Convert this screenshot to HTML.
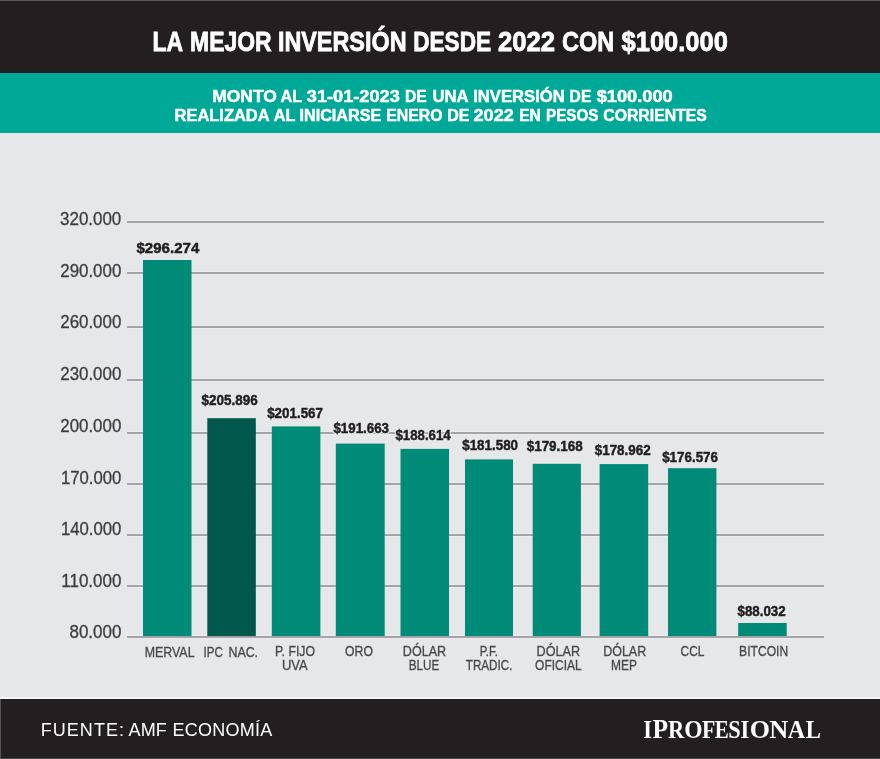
<!DOCTYPE html>
<html><head><meta charset="utf-8"><style>
html,body{margin:0;padding:0;background:#e6e7e8;}
body{width:880px;height:759px;overflow:hidden;}
svg{display:block;will-change:transform;}
text{white-space:pre;}
</style></head><body>
<svg width="880" height="759" viewBox="0 0 880 759">
<rect x="0" y="0" width="880" height="759" fill="#e6e7e8"/>
<rect x="0" y="0" width="880" height="73" fill="#231f20"/>
<rect x="0" y="0" width="880" height="1" fill="#5b5758"/>
<rect x="0" y="73" width="880" height="60" fill="#00a997"/>
<rect x="0" y="699" width="880" height="60" fill="#231f20"/>
<rect x="0" y="697" width="880" height="2" fill="#f6f6f6"/>
<rect x="0" y="699" width="1" height="60" fill="#555253"/>
<rect x="0" y="758" width="880" height="1" fill="#4a4748"/>
<rect x="127" y="220" width="697" height="1" fill="#ececed"/>
<rect x="127" y="223" width="697" height="1" fill="#ececed"/>
<rect x="127" y="221" width="697" height="2" fill="#a3a4a7"/>
<rect x="127" y="271" width="697" height="1" fill="#ececed"/>
<rect x="127" y="274" width="697" height="1" fill="#ececed"/>
<rect x="127" y="272" width="697" height="2" fill="#a3a4a7"/>
<rect x="127" y="325" width="697" height="1" fill="#ececed"/>
<rect x="127" y="328" width="697" height="1" fill="#ececed"/>
<rect x="127" y="326" width="697" height="2" fill="#a3a4a7"/>
<rect x="127" y="378" width="697" height="1" fill="#ececed"/>
<rect x="127" y="381" width="697" height="1" fill="#ececed"/>
<rect x="127" y="379" width="697" height="2" fill="#a3a4a7"/>
<rect x="127" y="431" width="697" height="1" fill="#ececed"/>
<rect x="127" y="434" width="697" height="1" fill="#ececed"/>
<rect x="127" y="432" width="697" height="2" fill="#a3a4a7"/>
<rect x="127" y="482" width="697" height="1" fill="#ececed"/>
<rect x="127" y="485" width="697" height="1" fill="#ececed"/>
<rect x="127" y="483" width="697" height="2" fill="#a3a4a7"/>
<rect x="127" y="533" width="697" height="1" fill="#ececed"/>
<rect x="127" y="536" width="697" height="1" fill="#ececed"/>
<rect x="127" y="534" width="697" height="2" fill="#a3a4a7"/>
<rect x="127" y="584" width="697" height="1" fill="#ececed"/>
<rect x="127" y="587" width="697" height="1" fill="#ececed"/>
<rect x="127" y="585" width="697" height="2" fill="#a3a4a7"/>
<rect x="127" y="635" width="697" height="1" fill="#ececed"/>
<rect x="127" y="638" width="697" height="1" fill="#ececed"/>
<rect x="127" y="636" width="697" height="2" fill="#a3a4a7"/>
<rect x="143" y="260" width="48.50" height="376.00" fill="#008a78"/>
<rect x="207.3" y="418.2" width="48.50" height="217.80" fill="#00574b"/>
<rect x="271.8" y="426.4" width="48.60" height="209.60" fill="#008a78"/>
<rect x="335.8" y="443.6" width="48.90" height="192.40" fill="#008a78"/>
<rect x="400.5" y="448.9" width="48.50" height="187.10" fill="#008a78"/>
<rect x="465" y="459.4" width="48.00" height="176.60" fill="#008a78"/>
<rect x="532.7" y="463.8" width="48.20" height="172.20" fill="#008a78"/>
<rect x="599.6" y="464.1" width="48.60" height="171.90" fill="#008a78"/>
<rect x="668" y="468.2" width="48.40" height="167.80" fill="#008a78"/>
<rect x="738.2" y="623" width="48.50" height="13.00" fill="#008a78"/>
<text id="t0" x="152.61" y="50.50" font-family="Liberation Sans" font-weight="bold" font-size="27.2" textLength="30.56" lengthAdjust="spacingAndGlyphs" fill="#fff" stroke="#fff" stroke-width="0.8" >LA</text>
<text id="t1" x="190.00" y="50.50" font-family="Liberation Sans" font-weight="bold" font-size="27.2" textLength="81.70" lengthAdjust="spacingAndGlyphs" fill="#fff" stroke="#fff" stroke-width="0.8" >MEJOR</text>
<text id="t2" x="277.88" y="50.50" font-family="Liberation Sans" font-weight="bold" font-size="27.2" textLength="128.69" lengthAdjust="spacingAndGlyphs" fill="#fff" stroke="#fff" stroke-width="0.8" >INVERSIÓN</text>
<text id="t3" x="413.19" y="50.50" font-family="Liberation Sans" font-weight="bold" font-size="27.2" textLength="77.90" lengthAdjust="spacingAndGlyphs" fill="#fff" stroke="#fff" stroke-width="0.8" >DESDE</text>
<text id="t4" x="497.96" y="50.50" font-family="Liberation Sans" font-weight="bold" font-size="27.2" textLength="57.19" lengthAdjust="spacingAndGlyphs" fill="#fff" stroke="#fff" stroke-width="0.8" >2022</text>
<text id="t5" x="561.92" y="50.50" font-family="Liberation Sans" font-weight="bold" font-size="27.2" textLength="52.23" lengthAdjust="spacingAndGlyphs" fill="#fff" stroke="#fff" stroke-width="0.8" >CON</text>
<text id="t6" x="621.56" y="50.50" font-family="Liberation Sans" font-weight="bold" font-size="27.2" textLength="106.33" lengthAdjust="spacingAndGlyphs" fill="#fff" stroke="#fff" stroke-width="0.8" >$100.000</text>
<text id="s1_0" x="212.26" y="101.50" font-family="Liberation Sans" font-weight="bold" font-size="17.4" textLength="64.59" lengthAdjust="spacingAndGlyphs" fill="#fff" stroke="#fff" stroke-width="0.5" >MONTO</text>
<text id="s1_1" x="280.60" y="101.50" font-family="Liberation Sans" font-weight="bold" font-size="17.4" textLength="21.74" lengthAdjust="spacingAndGlyphs" fill="#fff" stroke="#fff" stroke-width="0.5" >AL</text>
<text id="s1_2" x="306.79" y="101.50" font-family="Liberation Sans" font-weight="bold" font-size="17.4" textLength="92.97" lengthAdjust="spacingAndGlyphs" fill="#fff" stroke="#fff" stroke-width="0.5" >31-01-2023</text>
<text id="s1_3" x="405.04" y="101.50" font-family="Liberation Sans" font-weight="bold" font-size="17.4" textLength="21.71" lengthAdjust="spacingAndGlyphs" fill="#fff" stroke="#fff" stroke-width="0.5" >DE</text>
<text id="s1_4" x="432.47" y="101.50" font-family="Liberation Sans" font-weight="bold" font-size="17.4" textLength="36.04" lengthAdjust="spacingAndGlyphs" fill="#fff" stroke="#fff" stroke-width="0.5" >UNA</text>
<text id="s1_5" x="473.18" y="101.50" font-family="Liberation Sans" font-weight="bold" font-size="17.4" textLength="91.70" lengthAdjust="spacingAndGlyphs" fill="#fff" stroke="#fff" stroke-width="0.5" >INVERSIÓN</text>
<text id="s1_6" x="569.61" y="101.50" font-family="Liberation Sans" font-weight="bold" font-size="17.4" textLength="21.71" lengthAdjust="spacingAndGlyphs" fill="#fff" stroke="#fff" stroke-width="0.5" >DE</text>
<text id="s1_7" x="596.65" y="101.50" font-family="Liberation Sans" font-weight="bold" font-size="17.4" textLength="76.05" lengthAdjust="spacingAndGlyphs" fill="#fff" stroke="#fff" stroke-width="0.5" >$100.000</text>
<text id="s2_0" x="174.50" y="120.80" font-family="Liberation Sans" font-weight="bold" font-size="17.4" textLength="95.15" lengthAdjust="spacingAndGlyphs" fill="#fff" stroke="#fff" stroke-width="0.5" >REALIZADA</text>
<text id="s2_1" x="273.72" y="120.80" font-family="Liberation Sans" font-weight="bold" font-size="17.4" textLength="21.64" lengthAdjust="spacingAndGlyphs" fill="#fff" stroke="#fff" stroke-width="0.5" >AL</text>
<text id="s2_2" x="299.48" y="120.80" font-family="Liberation Sans" font-weight="bold" font-size="17.4" textLength="81.92" lengthAdjust="spacingAndGlyphs" fill="#fff" stroke="#fff" stroke-width="0.5" >INICIARSE</text>
<text id="s2_3" x="386.23" y="120.80" font-family="Liberation Sans" font-weight="bold" font-size="17.4" textLength="56.27" lengthAdjust="spacingAndGlyphs" fill="#fff" stroke="#fff" stroke-width="0.5" >ENERO</text>
<text id="s2_4" x="447.17" y="120.80" font-family="Liberation Sans" font-weight="bold" font-size="17.4" textLength="22.18" lengthAdjust="spacingAndGlyphs" fill="#fff" stroke="#fff" stroke-width="0.5" >DE</text>
<text id="s2_5" x="473.51" y="120.80" font-family="Liberation Sans" font-weight="bold" font-size="17.4" textLength="40.47" lengthAdjust="spacingAndGlyphs" fill="#fff" stroke="#fff" stroke-width="0.5" >2022</text>
<text id="s2_6" x="519.14" y="120.80" font-family="Liberation Sans" font-weight="bold" font-size="17.4" textLength="21.75" lengthAdjust="spacingAndGlyphs" fill="#fff" stroke="#fff" stroke-width="0.5" >EN</text>
<text id="s2_7" x="546.11" y="120.80" font-family="Liberation Sans" font-weight="bold" font-size="17.4" textLength="52.32" lengthAdjust="spacingAndGlyphs" fill="#fff" stroke="#fff" stroke-width="0.5" >PESOS</text>
<text id="s2_8" x="603.29" y="120.80" font-family="Liberation Sans" font-weight="bold" font-size="17.4" textLength="103.54" lengthAdjust="spacingAndGlyphs" fill="#fff" stroke="#fff" stroke-width="0.5" >CORRIENTES</text>
<text id="y0" x="60.07" y="224.80" font-family="Liberation Sans" font-weight="normal" font-size="17.6" textLength="61.23" lengthAdjust="spacingAndGlyphs" fill="#3c3c3e" stroke="#3c3c3e" stroke-width="0.3" >320.000</text>
<text id="y1" x="60.26" y="276.50" font-family="Liberation Sans" font-weight="normal" font-size="17.6" textLength="61.04" lengthAdjust="spacingAndGlyphs" fill="#3c3c3e" stroke="#3c3c3e" stroke-width="0.3" >290.000</text>
<text id="y2" x="60.25" y="328.20" font-family="Liberation Sans" font-weight="normal" font-size="17.6" textLength="61.04" lengthAdjust="spacingAndGlyphs" fill="#3c3c3e" stroke="#3c3c3e" stroke-width="0.3" >260.000</text>
<text id="y3" x="60.25" y="380.00" font-family="Liberation Sans" font-weight="normal" font-size="17.6" textLength="61.04" lengthAdjust="spacingAndGlyphs" fill="#3c3c3e" stroke="#3c3c3e" stroke-width="0.3" >230.000</text>
<text id="y4" x="60.26" y="431.60" font-family="Liberation Sans" font-weight="normal" font-size="17.6" textLength="61.04" lengthAdjust="spacingAndGlyphs" fill="#3c3c3e" stroke="#3c3c3e" stroke-width="0.3" >200.000</text>
<text id="y5" x="60.90" y="483.50" font-family="Liberation Sans" font-weight="normal" font-size="17.6" textLength="60.45" lengthAdjust="spacingAndGlyphs" fill="#3c3c3e" stroke="#3c3c3e" stroke-width="0.3" >170.000</text>
<text id="y6" x="60.91" y="535.20" font-family="Liberation Sans" font-weight="normal" font-size="17.6" textLength="60.45" lengthAdjust="spacingAndGlyphs" fill="#3c3c3e" stroke="#3c3c3e" stroke-width="0.3" >140.000</text>
<text id="y7" x="61.32" y="587.00" font-family="Liberation Sans" font-weight="normal" font-size="17.6" textLength="60.01" lengthAdjust="spacingAndGlyphs" fill="#3c3c3e" stroke="#3c3c3e" stroke-width="0.3" >110.000</text>
<text id="y8" x="69.55" y="638.20" font-family="Liberation Sans" font-weight="normal" font-size="17.6" textLength="51.75" lengthAdjust="spacingAndGlyphs" fill="#3c3c3e" stroke="#3c3c3e" stroke-width="0.3" >80.000</text>
<text class="halo" x="136.51" y="252.50" font-family="Liberation Sans" font-weight="bold" font-size="15.3" textLength="62.81" lengthAdjust="spacingAndGlyphs" fill="#e6e7e8" stroke="#e6e7e8" stroke-width="3">$296.274</text>
<text id="v0" x="136.51" y="252.50" font-family="Liberation Sans" font-weight="bold" font-size="15.3" textLength="62.81" lengthAdjust="spacingAndGlyphs" fill="#1f1c1d" stroke="#1f1c1d" stroke-width="0.45" >$296.274</text>
<text class="halo" x="201.53" y="405.30" font-family="Liberation Sans" font-weight="bold" font-size="15.3" textLength="56.14" lengthAdjust="spacingAndGlyphs" fill="#e6e7e8" stroke="#e6e7e8" stroke-width="3">$205.896</text>
<text id="v1" x="201.53" y="405.30" font-family="Liberation Sans" font-weight="bold" font-size="15.3" textLength="56.14" lengthAdjust="spacingAndGlyphs" fill="#1f1c1d" stroke="#1f1c1d" stroke-width="0.45" >$205.896</text>
<text class="halo" x="267.18" y="418.00" font-family="Liberation Sans" font-weight="bold" font-size="15.3" textLength="55.84" lengthAdjust="spacingAndGlyphs" fill="#e6e7e8" stroke="#e6e7e8" stroke-width="3">$201.567</text>
<text id="v2" x="267.18" y="418.00" font-family="Liberation Sans" font-weight="bold" font-size="15.3" textLength="55.84" lengthAdjust="spacingAndGlyphs" fill="#1f1c1d" stroke="#1f1c1d" stroke-width="0.45" >$201.567</text>
<text class="halo" x="333.45" y="432.50" font-family="Liberation Sans" font-weight="bold" font-size="15.3" textLength="55.57" lengthAdjust="spacingAndGlyphs" fill="#e6e7e8" stroke="#e6e7e8" stroke-width="3">$191.663</text>
<text id="v3" x="333.45" y="432.50" font-family="Liberation Sans" font-weight="bold" font-size="15.3" textLength="55.57" lengthAdjust="spacingAndGlyphs" fill="#1f1c1d" stroke="#1f1c1d" stroke-width="0.45" >$191.663</text>
<text class="halo" x="395.48" y="440.00" font-family="Liberation Sans" font-weight="bold" font-size="15.3" textLength="55.16" lengthAdjust="spacingAndGlyphs" fill="#e6e7e8" stroke="#e6e7e8" stroke-width="3">$188.614</text>
<text id="v4" x="395.48" y="440.00" font-family="Liberation Sans" font-weight="bold" font-size="15.3" textLength="55.16" lengthAdjust="spacingAndGlyphs" fill="#1f1c1d" stroke="#1f1c1d" stroke-width="0.45" >$188.614</text>
<text class="halo" x="462.18" y="450.40" font-family="Liberation Sans" font-weight="bold" font-size="15.3" textLength="55.91" lengthAdjust="spacingAndGlyphs" fill="#e6e7e8" stroke="#e6e7e8" stroke-width="3">$181.580</text>
<text id="v5" x="462.18" y="450.40" font-family="Liberation Sans" font-weight="bold" font-size="15.3" textLength="55.91" lengthAdjust="spacingAndGlyphs" fill="#1f1c1d" stroke="#1f1c1d" stroke-width="0.45" >$181.580</text>
<text class="halo" x="526.74" y="451.40" font-family="Liberation Sans" font-weight="bold" font-size="15.3" textLength="55.94" lengthAdjust="spacingAndGlyphs" fill="#e6e7e8" stroke="#e6e7e8" stroke-width="3">$179.168</text>
<text id="v6" x="526.74" y="451.40" font-family="Liberation Sans" font-weight="bold" font-size="15.3" textLength="55.94" lengthAdjust="spacingAndGlyphs" fill="#1f1c1d" stroke="#1f1c1d" stroke-width="0.45" >$179.168</text>
<text class="halo" x="594.74" y="455.10" font-family="Liberation Sans" font-weight="bold" font-size="15.3" textLength="55.98" lengthAdjust="spacingAndGlyphs" fill="#e6e7e8" stroke="#e6e7e8" stroke-width="3">$178.962</text>
<text id="v7" x="594.74" y="455.10" font-family="Liberation Sans" font-weight="bold" font-size="15.3" textLength="55.98" lengthAdjust="spacingAndGlyphs" fill="#1f1c1d" stroke="#1f1c1d" stroke-width="0.45" >$178.962</text>
<text class="halo" x="662.18" y="462.10" font-family="Liberation Sans" font-weight="bold" font-size="15.3" textLength="55.85" lengthAdjust="spacingAndGlyphs" fill="#e6e7e8" stroke="#e6e7e8" stroke-width="3">$176.576</text>
<text id="v8" x="662.18" y="462.10" font-family="Liberation Sans" font-weight="bold" font-size="15.3" textLength="55.85" lengthAdjust="spacingAndGlyphs" fill="#1f1c1d" stroke="#1f1c1d" stroke-width="0.45" >$176.576</text>
<text class="halo" x="737.54" y="615.50" font-family="Liberation Sans" font-weight="bold" font-size="15.3" textLength="48.12" lengthAdjust="spacingAndGlyphs" fill="#e6e7e8" stroke="#e6e7e8" stroke-width="3">$88.032</text>
<text id="v9" x="737.54" y="615.50" font-family="Liberation Sans" font-weight="bold" font-size="15.3" textLength="48.12" lengthAdjust="spacingAndGlyphs" fill="#1f1c1d" stroke="#1f1c1d" stroke-width="0.45" >$88.032</text>
<text id="c0" x="144.74" y="656.70" font-family="Liberation Sans" font-weight="normal" font-size="14.2" textLength="49.80" lengthAdjust="spacingAndGlyphs" fill="#48484a" stroke="#48484a" stroke-width="0.3" >MERVAL</text>
<text id="c1a" x="203.59" y="656.70" font-family="Liberation Sans" font-weight="normal" font-size="14.2" textLength="19.32" lengthAdjust="spacingAndGlyphs" fill="#48484a" stroke="#48484a" stroke-width="0.3" >IPC</text>
<text id="c1b" x="228.45" y="656.70" font-family="Liberation Sans" font-weight="normal" font-size="14.2" textLength="29.62" lengthAdjust="spacingAndGlyphs" fill="#48484a" stroke="#48484a" stroke-width="0.3" >NAC.</text>
<text id="c2" x="275.04" y="656.30" font-family="Liberation Sans" font-weight="normal" font-size="14.2" textLength="39.95" lengthAdjust="spacingAndGlyphs" fill="#48484a" stroke="#48484a" stroke-width="0.3" >P. FIJO</text>
<text id="c3" x="281.99" y="670.40" font-family="Liberation Sans" font-weight="normal" font-size="14.2" textLength="25.71" lengthAdjust="spacingAndGlyphs" fill="#48484a" stroke="#48484a" stroke-width="0.3" >UVA</text>
<text id="c4" x="345.12" y="656.30" font-family="Liberation Sans" font-weight="normal" font-size="14.2" textLength="27.82" lengthAdjust="spacingAndGlyphs" fill="#48484a" stroke="#48484a" stroke-width="0.3" >ORO</text>
<text id="c5" x="402.87" y="656.30" font-family="Liberation Sans" font-weight="normal" font-size="14.2" textLength="43.25" lengthAdjust="spacingAndGlyphs" fill="#48484a" stroke="#48484a" stroke-width="0.3" >DÓLAR</text>
<text id="c6" x="408.72" y="670.40" font-family="Liberation Sans" font-weight="normal" font-size="14.2" textLength="30.62" lengthAdjust="spacingAndGlyphs" fill="#48484a" stroke="#48484a" stroke-width="0.3" >BLUE</text>
<text id="c7" x="479.71" y="656.30" font-family="Liberation Sans" font-weight="normal" font-size="14.2" textLength="18.16" lengthAdjust="spacingAndGlyphs" fill="#48484a" stroke="#48484a" stroke-width="0.3" >P.F.</text>
<text id="c8" x="465.77" y="670.40" font-family="Liberation Sans" font-weight="normal" font-size="14.2" textLength="46.60" lengthAdjust="spacingAndGlyphs" fill="#48484a" stroke="#48484a" stroke-width="0.3" >TRADIC.</text>
<text id="c9" x="536.58" y="656.30" font-family="Liberation Sans" font-weight="normal" font-size="14.2" textLength="43.47" lengthAdjust="spacingAndGlyphs" fill="#48484a" stroke="#48484a" stroke-width="0.3" >DÓLAR</text>
<text id="c10" x="535.10" y="670.40" font-family="Liberation Sans" font-weight="normal" font-size="14.2" textLength="46.59" lengthAdjust="spacingAndGlyphs" fill="#48484a" stroke="#48484a" stroke-width="0.3" >OFICIAL</text>
<text id="c11" x="603.20" y="656.30" font-family="Liberation Sans" font-weight="normal" font-size="14.2" textLength="42.95" lengthAdjust="spacingAndGlyphs" fill="#48484a" stroke="#48484a" stroke-width="0.3" >DÓLAR</text>
<text id="c12" x="611.07" y="670.40" font-family="Liberation Sans" font-weight="normal" font-size="14.2" textLength="25.99" lengthAdjust="spacingAndGlyphs" fill="#48484a" stroke="#48484a" stroke-width="0.3" >MEP</text>
<text id="c13" x="680.50" y="656.30" font-family="Liberation Sans" font-weight="normal" font-size="14.2" textLength="23.93" lengthAdjust="spacingAndGlyphs" fill="#48484a" stroke="#48484a" stroke-width="0.3" >CCL</text>
<text id="c14" x="739.11" y="656.30" font-family="Liberation Sans" font-weight="normal" font-size="14.2" textLength="49.01" lengthAdjust="spacingAndGlyphs" fill="#48484a" stroke="#48484a" stroke-width="0.3" >BITCOIN</text>
<text id="f0" x="40.63" y="736.20" font-family="Liberation Sans" font-weight="normal" font-size="18" textLength="83.49" lengthAdjust="spacing" fill="#fff" >FUENTE:</text>
<text id="f1" x="128.59" y="736.20" font-family="Liberation Sans" font-weight="normal" font-size="18" textLength="38.15" lengthAdjust="spacing" fill="#fff" >AMF</text>
<text id="f2" x="172.61" y="736.20" font-family="Liberation Sans" font-weight="normal" font-size="18" textLength="99.66" lengthAdjust="spacing" fill="#fff" >ECONOMÍA</text>
<text id="l0" x="643.17" y="737.50" font-family="Liberation Serif" font-weight="bold" font-size="24.6" textLength="8.72" lengthAdjust="spacingAndGlyphs" fill="#fff" >I</text>
<text id="l1" x="652.52" y="737.50" font-family="Liberation Serif" font-weight="bold" font-size="28.2" textLength="15.57" lengthAdjust="spacingAndGlyphs" fill="#fff" >P</text>
<text id="l2" x="668.07" y="737.50" font-family="Liberation Serif" font-weight="bold" font-size="24.6" textLength="16.20" lengthAdjust="spacingAndGlyphs" fill="#fff" >R</text>
<text id="l3" x="684.32" y="737.50" font-family="Liberation Serif" font-weight="bold" font-size="24.6" textLength="18.32" lengthAdjust="spacingAndGlyphs" fill="#fff" >O</text>
<text id="l4" x="702.12" y="737.50" font-family="Liberation Serif" font-weight="bold" font-size="24.6" textLength="13.34" lengthAdjust="spacingAndGlyphs" fill="#fff" >F</text>
<text id="l5" x="714.76" y="737.50" font-family="Liberation Serif" font-weight="bold" font-size="24.6" textLength="14.03" lengthAdjust="spacingAndGlyphs" fill="#fff" >E</text>
<text id="l6" x="728.16" y="737.50" font-family="Liberation Serif" font-weight="bold" font-size="24.6" textLength="12.40" lengthAdjust="spacingAndGlyphs" fill="#fff" >S</text>
<text id="l7" x="740.62" y="737.50" font-family="Liberation Serif" font-weight="bold" font-size="24.6" textLength="8.73" lengthAdjust="spacingAndGlyphs" fill="#fff" >I</text>
<text id="l8" x="749.74" y="737.50" font-family="Liberation Serif" font-weight="bold" font-size="24.6" textLength="20.26" lengthAdjust="spacingAndGlyphs" fill="#fff" >O</text>
<text id="l9" x="769.24" y="737.50" font-family="Liberation Serif" font-weight="bold" font-size="24.6" textLength="19.05" lengthAdjust="spacingAndGlyphs" fill="#fff" >N</text>
<text id="l10" x="787.63" y="737.50" font-family="Liberation Serif" font-weight="bold" font-size="24.6" textLength="17.44" lengthAdjust="spacingAndGlyphs" fill="#fff" >A</text>
<text id="l11" x="805.72" y="737.50" font-family="Liberation Serif" font-weight="bold" font-size="24.6" textLength="15.13" lengthAdjust="spacingAndGlyphs" fill="#fff" >L</text>
</svg>
</body></html>
